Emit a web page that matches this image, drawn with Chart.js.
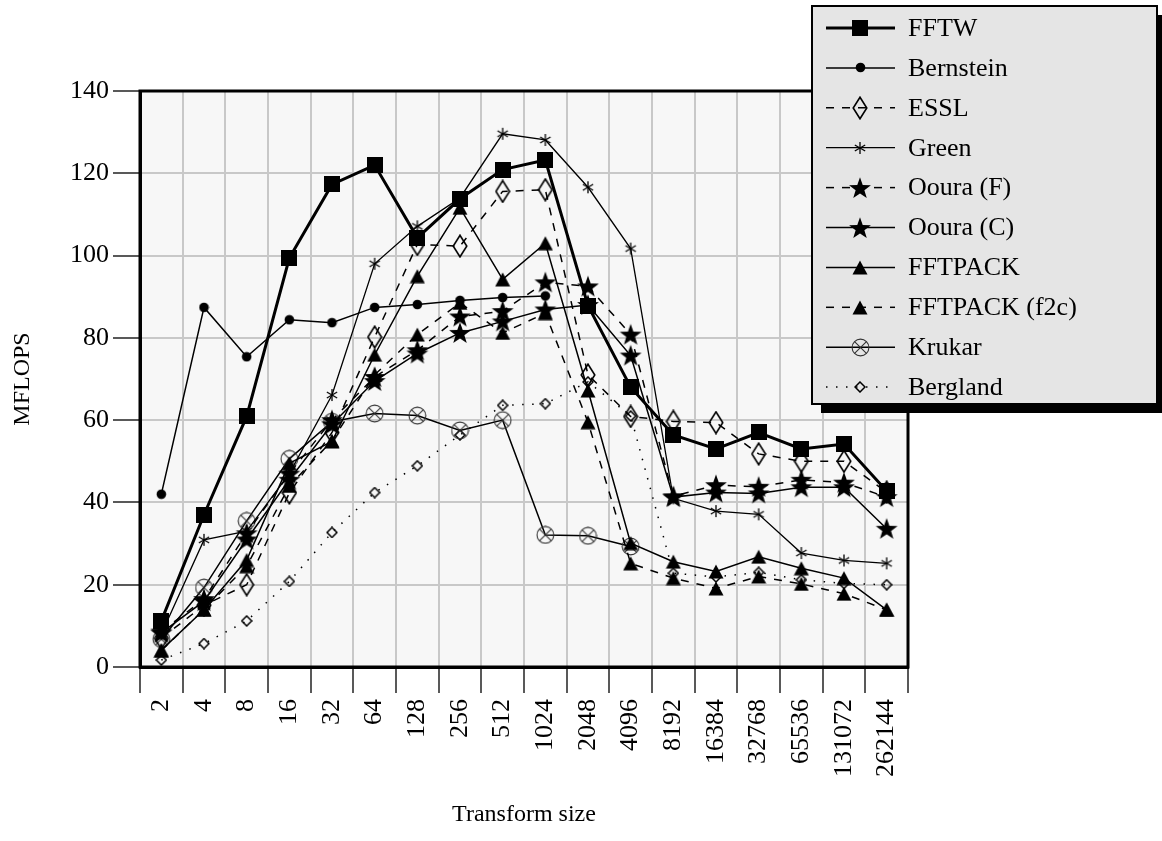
<!DOCTYPE html>
<html>
<head>
<meta charset="utf-8">
<script src="https://cdn.jsdelivr.net/npm/chart.js@4"></script>
<style>
  html, body { margin: 0; padding: 0; background: #fff; }
  canvas { display: block; }
</style>
</head>
<body>
<canvas id="fftChart" width="1162" height="841"></canvas>
<script>
// transform sizes on the x axis
const sizes = ['2', '4', '8', '16', '32', '64', '128', '256', '512', '1024', '2048', '4096',
  '8192', '16384', '32768', '65536', '131072', '262144'];

// MFLOPS per library
const fftw = [11.2, 37, 60.9, 99.4, 117.3, 122, 104.3, 113.8, 120.9, 123.2, 87.8, 68, 56.4, 53, 57, 53, 54.2, 42.8];
const bernstein = [42, 87.4, 75.4, 84.4, 83.7, 87.4, 88.1, 89.1, 89.8, 90.2, null, null, null, null, null, null, null, null];
const essl = [7, 15, 20, 42.3, 57, 80.2, 102.7, 102.3, 115.6, 116, 71, 60.9, 59.7, 59.4, 51.8, 50, 50, 42.5];
const green = [8, 30.9, 33, 47, 66.1, 98, 107.1, 114, 129.6, 128.1, 116.6, 101.7, 41, 37.9, 37.1, 27.7, 25.9, 25.2];
const ouraF = [8.6, 16.5, 32.5, 47, 60, 70.5, 77, 85.2, 86.5, 93.5, 92.5, 80.8, 41.5, 44.2, 43.8, 45.5, 44.8, 41.3];
const ouraC = [8.3, 16, 31, 45.5, 59, 69.5, 76.2, 81.2, 84, 86.9, 88, 75.7, 41.3, 42.4, 42.2, 43.7, 43.7, 33.6];
const fftpack = [4.1, 13.9, 26, 49.5, 54.8, 75.9, 95, 111.6, 94.2, 103, 67.2, 30.1, 25.6, 23.2, 26.8, 24, 21.6, 13.9];
const fftpackF2c = [4, 14, 24.5, 44, 55, 71, 80.8, 88.5, 81.2, 86, 59.5, 25.2, 21.6, 19.1, 22, 20.2, 17.8, 13.9];
const krukar = [6.8, 19.3, 35.5, 50.6, 59.6, 61.6, 61.1, 57.5, 60, 32.1, 31.9, 29.3, null, null, null, null, null, null];
const bergland = [1.7, 5.7, 11.2, 20.8, 32.7, 42.4, 48.9, 56.4, 63.6, 64, 69.3, 61, 22.8, 21.9, 23, 21.2, 20.3, 20];

const yTicks = [0, 20, 40, 60, 80, 100, 120, 140];

const FONT = "'Liberation Serif', 'Times New Roman', serif";

// small canvases used as point markers
function marker(w, h, paint) {
  const c = document.createElement('canvas');
  c.width = w;
  c.height = h;
  const g = c.getContext('2d');
  g.fillStyle = '#000';
  g.strokeStyle = '#000';
  paint(g, w, h);
  return c;
}

const mSquare = marker(16, 16, (g) => g.fillRect(0, 0, 16, 16));
const mDot = marker(11, 11, (g) => {
  g.beginPath();
  g.arc(5.5, 5.5, 4.8, 0, Math.PI * 2);
  g.fill();
});
const mDiamond = marker(16, 24, (g) => {
  g.lineWidth = 1.6;
  g.beginPath();
  g.moveTo(8, 1.2); g.lineTo(14.8, 12); g.lineTo(8, 22.8); g.lineTo(1.2, 12);
  g.closePath();
  g.stroke();
});
const mAsterisk = marker(14, 14, (g) => {
  g.lineWidth = 1.3;
  [90, 30, 150].forEach((a) => {
    const r = (a * Math.PI) / 180;
    g.beginPath();
    g.moveTo(7 - 6 * Math.cos(r), 7 - 6 * Math.sin(r));
    g.lineTo(7 + 6 * Math.cos(r), 7 + 6 * Math.sin(r));
    g.stroke();
  });
});
const mStar = marker(24, 24, (g) => {
  g.beginPath();
  for (let i = 0; i < 10; i++) {
    const r = i % 2 === 0 ? 11.5 : 4.6;
    const a = -Math.PI / 2 + (i * Math.PI) / 5;
    const px = 12 + r * Math.cos(a);
    const py = 12.8 + r * Math.sin(a);
    if (i === 0) g.moveTo(px, py); else g.lineTo(px, py);
  }
  g.closePath();
  g.fill();
});
const mTriangle = marker(16, 15, (g) => {
  g.beginPath();
  g.moveTo(8, 0.5); g.lineTo(15.5, 14.5); g.lineTo(0.5, 14.5);
  g.closePath();
  g.fill();
});
const mKrukar = marker(19, 19, (g) => {
  g.strokeStyle = '#333';
  g.lineWidth = 1.1;
  g.beginPath();
  g.arc(9.5, 9.5, 8.4, 0, Math.PI * 2);
  g.stroke();
  const d = 8.4 * Math.SQRT1_2;
  g.beginPath();
  g.moveTo(9.5 - d, 9.5 - d); g.lineTo(9.5 + d, 9.5 + d);
  g.moveTo(9.5 + d, 9.5 - d); g.lineTo(9.5 - d, 9.5 + d);
  g.stroke();
});
const mSmallDiamond = marker(12, 12, (g) => {
  g.lineWidth = 1.5;
  g.beginPath();
  g.moveTo(6, 1); g.lineTo(11, 6); g.lineTo(6, 11); g.lineTo(1, 6);
  g.closePath();
  g.stroke();
});

const DASH = [8, 8];
const DOT = [1.5, 8.5];

function series(label, data, pointStyle, width, dash) {
  return {
    label,
    data,
    pointStyle,
    borderColor: '#000',
    backgroundColor: '#000',
    borderWidth: width,
    borderDash: dash,
    pointRadius: 8,
    tension: 0,
    spanGaps: false,
  };
}

// plot background, full frame and the boxed legend with a drop shadow
const framePlugin = {
  id: 'frame',
  beforeDraw(chart) {
    const { ctx, chartArea: a } = chart;
    ctx.save();
    ctx.fillStyle = '#f7f7f7';
    ctx.fillRect(a.left, a.top, a.right - a.left, a.bottom - a.top);
    ctx.restore();
  },
  beforeDatasetsDraw(chart) {
    const { ctx, chartArea: a } = chart;
    ctx.save();
    ctx.strokeStyle = '#000';
    ctx.lineWidth = 3;
    ctx.strokeRect(a.left, a.top, a.right - a.left, a.bottom - a.top);
    ctx.restore();
  },
  afterDraw(chart) {
    const ctx = chart.ctx;
    const bx = 812, by = 6, bw = 345, bh = 398;
    ctx.save();
    ctx.fillStyle = '#000';
    ctx.fillRect(bx + 9, by + 9, bw, bh);
    ctx.fillStyle = '#e5e5e5';
    ctx.fillRect(bx, by, bw, bh);
    ctx.strokeStyle = '#000';
    ctx.lineWidth = 2;
    ctx.strokeRect(bx, by, bw, bh);

    ctx.font = '26px ' + FONT;
    ctx.textBaseline = 'middle';
    ctx.textAlign = 'left';
    chart.data.datasets.forEach((ds, i) => {
      const y = 28 + i * 39.9;
      ctx.strokeStyle = '#000';
      ctx.lineWidth = ds.borderWidth;
      ctx.setLineDash(ds.borderDash || []);
      ctx.beginPath();
      ctx.moveTo(826, y);
      ctx.lineTo(895, y);
      ctx.stroke();
      ctx.setLineDash([]);
      const m = ds.pointStyle;
      ctx.drawImage(m, Math.round(860 - m.width / 2), Math.round(y - m.height / 2));
      ctx.fillStyle = '#000';
      ctx.fillText(ds.label, 908, y + 1);
    });
    ctx.restore();
  },
};

new Chart(document.getElementById('fftChart'), {
  type: 'line',
  data: {
    labels: sizes,
    datasets: [
      series('FFTW', fftw, mSquare, 3, undefined),
      series('Bernstein', bernstein, mDot, 1.5, undefined),
      series('ESSL', essl, mDiamond, 1.5, DASH),
      series('Green', green, mAsterisk, 1.3, undefined),
      series('Ooura (F)', ouraF, mStar, 1.5, DASH),
      series('Ooura (C)', ouraC, mStar, 1.5, undefined),
      series('FFTPACK', fftpack, mTriangle, 1.5, undefined),
      series('FFTPACK (f2c)', fftpackF2c, mTriangle, 1.5, DASH),
      series('Krukar', krukar, mKrukar, 1.5, undefined),
      series('Bergland', bergland, mSmallDiamond, 1.5, DOT),
    ],
  },
  options: {
    responsive: false,
    animation: false,
    devicePixelRatio: 1,
    events: [],
    layout: { padding: { left: 0, right: 254, top: 91, bottom: 0 } },
    plugins: {
      legend: { display: false },
      tooltip: { enabled: false },
    },
    scales: {
      x: {
        offset: true,
        grid: { offset: true, color: '#c8c8c8', lineWidth: 2, tickColor: '#222', tickLength: 26, tickWidth: 1.5 },
        border: { display: true, color: '#000', width: 3 },
        ticks: {
          autoSkip: false,
          maxRotation: 90,
          minRotation: 90,
          padding: 6,
          color: '#000',
          font: { family: FONT, size: 26 },
        },
        title: {
          display: true,
          text: 'Transform size',
          color: '#000',
          font: { family: FONT, size: 24 },
          padding: { top: 12, bottom: 12 },
        },
        afterFit: (s) => { s.height = 174; },
      },
      y: {
        min: 0,
        max: 140,
        afterBuildTicks: (s) => { s.ticks = yTicks.map((v) => ({ value: v })); },
        grid: { color: '#c8c8c8', lineWidth: 2, tickColor: '#222', tickLength: 27, tickWidth: 1.5 },
        border: { display: true, color: '#000', width: 3 },
        ticks: {
          padding: 4,
          color: '#000',
          font: { family: FONT, size: 26 },
        },
        title: {
          display: true,
          text: 'MFLOPS',
          color: '#000',
          font: { family: FONT, size: 24 },
          padding: { top: 8, bottom: 8 },
        },
        afterFit: (s) => { s.width = 140; },
      },
    },
  },
  plugins: [framePlugin],
});
</script>
</body>
</html>
